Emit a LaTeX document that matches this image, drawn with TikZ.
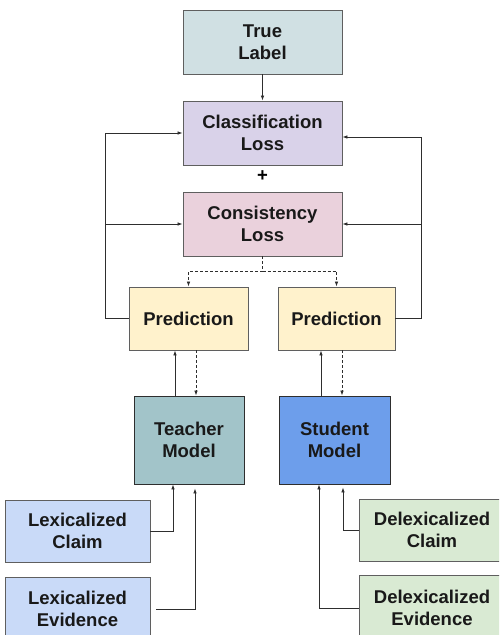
\documentclass[tikz,border=0pt]{standalone}
\usepackage{fontspec}
\setmainfont{Liberation Sans}
\usetikzlibrary{arrows.meta}
\definecolor{bordc}{HTML}{5F5F5F}
\definecolor{linec}{HTML}{2E2E2E}
\definecolor{ctrue}{HTML}{D0E0E3}
\definecolor{cclass}{HTML}{D9D2E9}
\definecolor{ccons}{HTML}{EAD1DC}
\definecolor{cpred}{HTML}{FFF2CC}
\definecolor{cteach}{HTML}{A2C4C9}
\definecolor{cstud}{HTML}{6D9EEB}
\definecolor{clex}{HTML}{C9DAF8}
\definecolor{cdelex}{HTML}{D9EAD3}
\tikzset{
  box/.style={draw=bordc, line width=0.9pt, align=center, inner sep=0pt,
    font=\fontsize{18.5}{22}\selectfont\bfseries, text=black!90},
  conn/.style={draw=linec, line width=0.8pt},
  arr/.style={conn, -{Latex[length=5pt,width=3.6pt]}},
  darr/.style={arr, dash pattern=on 3pt off 2pt},
}
\begin{document}
\begin{tikzpicture}[x=1pt,y=-1pt]
\fill[white] (0,0) rectangle (499,635);
\useasboundingbox (0,0) rectangle (499,635);
\clip (0,0) rectangle (499,635);
\node[box, fill=ctrue, minimum width=159pt, minimum height=64pt] (tl) at (262.5,42) {True\\Label};
\node[box, fill=cclass, minimum width=159pt, minimum height=64pt] (cl) at (262.5,133) {Classification\\Loss};
\node[font=\fontsize{18.5}{22}\selectfont\bfseries, inner sep=0pt] (plus) at (262.5,176) {+};
\node[box, fill=ccons, minimum width=159pt, minimum height=64pt] (co) at (262.5,224) {Consistency\\Loss};
\node[box, fill=cpred, minimum width=119pt, minimum height=63pt] (lp) at (188.5,318.5) {Prediction};
\node[box, fill=cpred, minimum width=117pt, minimum height=63pt] (rp) at (336.5,318.5) {Prediction};
\node[box, fill=cteach, draw=linec, minimum width=110pt, minimum height=88pt] (te) at (189,440) {Teacher\\Model};
\node[box, fill=cstud, draw=linec, minimum width=111pt, minimum height=88pt] (st) at (334.5,440) {Student\\Model};
\node[box, fill=clex, minimum width=145pt, minimum height=62pt] (lc) at (77.5,531) {Lexicalized\\Claim};
\node[box, fill=clex, minimum width=145pt, minimum height=64pt] (le) at (77.5,609) {Lexicalized\\Evidence};
\node[box, fill=cdelex, minimum width=146pt, minimum height=62pt] (dc) at (432,530) {Delexicalized\\Claim};
\node[box, fill=cdelex, minimum width=146pt, minimum height=66pt] (de) at (432,608) {Delexicalized\\Evidence};
% true label -> classification
\draw[arr] (tl) -- (cl);
% dashed split from consistency
\coordinate (dj) at ([yshift=-15pt]co.south);
\draw[conn, dash pattern=on 3pt off 2pt] (co.south) -- (dj);
\draw[darr] (dj) -| (lp.north);
\draw[darr] (dj) -| (rp.north);
% left loop
\coordinate (lx) at (105,0);
\coordinate (rx) at (421,0);
\draw[arr] (lp.west) -- (lp.west -| lx) |- (cl.west);
\draw[arr] (lp.west -| lx) |- (co.west);
\draw[arr] (rp.east) -- (rp.east -| rx) |- ([yshift=-4pt]cl.east);
\draw[arr] (rp.east -| rx) |- (co.east);
% teacher <-> prediction
\draw[arr] ([xshift=-14pt]te.north) -- ([xshift=-14pt]te.north |- lp.south);
\draw[darr] ([xshift=7pt]te.north |- lp.south) -- ([xshift=7pt]te.north);
\draw[arr] ([xshift=-13.5pt]st.north) -- ([xshift=-13.5pt]st.north |- rp.south);
\draw[darr] ([xshift=7.5pt]st.north |- rp.south) -- ([xshift=7.5pt]st.north);
% inputs
\draw[arr] (lc.east) -| ([xshift=-16pt]te.south);
\draw[arr, shorten <=6pt, shorten >=4pt] (le.east) -| ([xshift=6pt]te.south);
\draw[arr, shorten >=3pt] (dc.west) -| ([xshift=8.5pt]st.south);
\draw[arr] (de.west) -| ([xshift=-15.5pt]st.south);
\end{tikzpicture}
\end{document}
